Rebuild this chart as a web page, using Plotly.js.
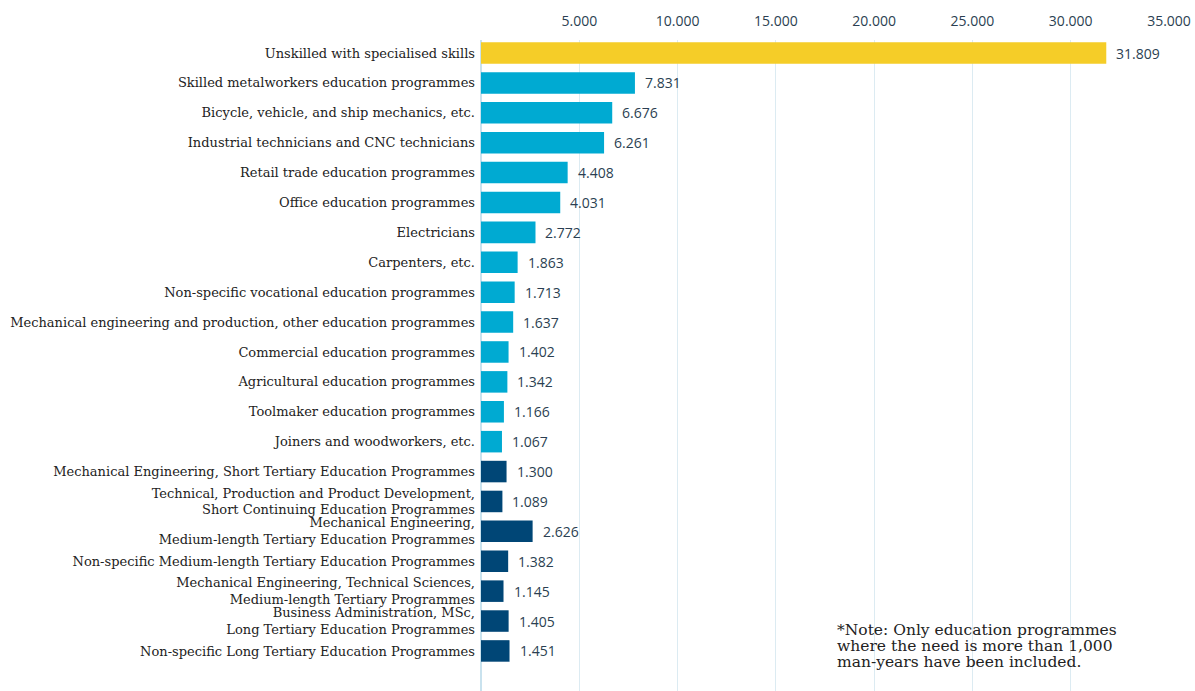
<!DOCTYPE html>
<html>
<head>
<meta charset="utf-8">
<script src="https://cdn.plot.ly/plotly-3.0.1.min.js"></script>
<style>html,body{margin:0;padding:0;background:#fff;}#chart{width:1195px;height:691px;}</style>
</head>
<body>
<div id="chart"></div>
<script>
const categories = [
  "Unskilled with specialised skills",
  "Skilled metalworkers education programmes",
  "Bicycle, vehicle, and ship mechanics, etc.",
  "Industrial technicians and CNC technicians",
  "Retail trade education programmes",
  "Office education programmes",
  "Electricians",
  "Carpenters, etc.",
  "Non-specific vocational education programmes",
  "Mechanical engineering and production, other education programmes",
  "Commercial education programmes",
  "Agricultural education programmes",
  "Toolmaker education programmes",
  "Joiners and woodworkers, etc.",
  "Mechanical Engineering, Short Tertiary Education Programmes",
  "Technical, Production and Product Development,<br>Short Continuing Education Programmes",
  "Mechanical Engineering,<br>Medium-length Tertiary Education Programmes",
  "Non-specific Medium-length Tertiary Education Programmes",
  "Mechanical Engineering, Technical Sciences,<br>Medium-length Tertiary Programmes",
  "Business Administration, MSc,<br>Long Tertiary Education Programmes",
  "Non-specific Long Tertiary Education Programmes"
];
const values = [31809, 7831, 6676, 6261, 4408, 4031, 2772, 1863, 1713, 1637, 1402, 1342, 1166, 1067, 1300, 1089, 2626, 1382, 1145, 1405, 1451];
const groups = ["unskilled","vocational","vocational","vocational","vocational","vocational","vocational","vocational","vocational","vocational","vocational","vocational","vocational","vocational","tertiary","tertiary","tertiary","tertiary","tertiary","tertiary","tertiary"];
const tickValues = [5000, 10000, 15000, 20000, 25000, 30000, 35000];
const noteLines = ["*Note: Only education programmes", "where the need is more than 1,000", "man-years have been included."];

const groupColors = {unskilled: "#F5CD28", vocational: "#00AAD2", tertiary: "#004676"};
const fmt = v => String(v).replace(/\B(?=(\d{3})+(?!\d))/g, ".");

const trace = {
  type: "bar",
  orientation: "h",
  y: categories,
  x: values,
  marker: {color: groups.map(g => groupColors[g])},
  hoverinfo: "skip"
};

const annotations = values.map((v, i) => ({
  x: v, y: categories[i], xref: "x", yref: "y",
  text: fmt(v), showarrow: false, xanchor: "left", xshift: 8,
  font: {family: "Open Sans, sans-serif", size: 14, color: "#2B3F52"}
}));
const noteY = [0.0937, 0.0691, 0.0445];
noteLines.forEach((t, i) => annotations.push({
  xref: "paper", yref: "paper", x: 0.515, y: noteY[i], xanchor: "left", yanchor: "middle",
  align: "left", showarrow: false, text: t,
  font: {family: "DejaVu Serif, serif", size: 15.5, color: "#222"}
}));

const layout = {
  width: 1195, height: 691,
  margin: {l: 481, r: 26, t: 40, b: 0},
  paper_bgcolor: "#fff", plot_bgcolor: "#fff",
  separators: ",.",
  bargap: 0.28,
  showlegend: false,
  xaxis: {
    side: "top", range: [0, 35000], tickvals: tickValues, tickformat: ",d",
    showgrid: true, gridcolor: "#DCEBF2", gridwidth: 1,
    zeroline: true, zerolinecolor: "#C9E2EE", zerolinewidth: 2,
    showline: false, ticks: "", ticklen: 0, ticklabelstandoff: 10,
    tickfont: {family: "Open Sans, sans-serif", size: 14, color: "#2B3F52"}
  },
  yaxis: {
    type: "category", range: [21.34, -0.435], automargin: false,
    showgrid: false, zeroline: false, ticks: "", ticklen: 0, ticklabelstandoff: 5,
    tickfont: {family: "DejaVu Serif, serif", size: 13, color: "#222"}
  },
  annotations: annotations
};

Plotly.newPlot("chart", [trace], layout, {displayModeBar: false, staticPlot: true});
</script>
</body>
</html>
